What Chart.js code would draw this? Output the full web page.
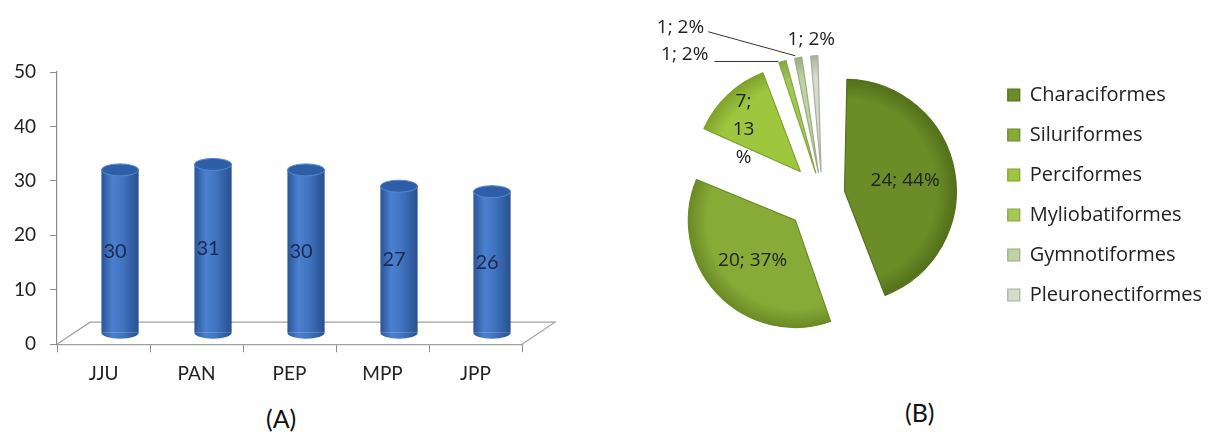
<!DOCTYPE html>
<html>
<head>
<meta charset="utf-8">
<script src="https://cdn.jsdelivr.net/npm/chart.js@4.4.1/dist/chart.umd.min.js"></script>
<style>
    body { margin: 0; background: #fff; width: 1212px; height: 439px; overflow: hidden; position: relative; font-family: Lato, sans-serif; }
    #caixa-a { position: absolute; left: 0; top: 0; width: 600px; height: 400px; }
    #caixa-b { position: absolute; left: 657px; top: 0; width: 555px; height: 390px; }
    .legenda { position: absolute; font-size: 25px; color: #111; }
</style>
</head>
<body>
<div id="caixa-a"><canvas id="grafico-locais"></canvas></div>
<div id="caixa-b"><canvas id="grafico-ordens"></canvas></div>
<div class="legenda" style="left:266px; top:403px;">(A)</div>
<div class="legenda" style="left:905px; top:397px;">(B)</div>

<script>
// Dados (A): riqueza por local
const locais = ['JJU', 'PAN', 'PEP', 'MPP', 'JPP'];
const riqueza = [30, 31, 30, 27, 26];
const ticksY = [0, 10, 20, 30, 40, 50];

// Dados (B): espécies por ordem
const ordens = ['Characiformes', 'Siluriformes', 'Perciformes', 'Myliobatiformes', 'Gymnotiformes', 'Pleuronectiformes'];
const especies = [24, 20, 7, 1, 1, 1];
const percentuais = [44, 37, 13, 2, 2, 2];

const coresOrdens = ['#6c8c27', '#88ab38', '#9ec63e', '#a5c855', '#bfd3a0', '#d5dccb'];
const bordasOrdens = ['#52701a', '#6b8a25', '#7fa22c', '#86a645', '#9cac84', '#a9b09e'];

const fonte = 'Lato, "Open Sans", sans-serif';
const fonteB = '"Open Sans", Lato, sans-serif';

// Gráfico (A): cilindros com piso em perspectiva
const profundidade = { dx: 33, dy: -22 };

const cilindros = {
    id: 'cilindros',
    beforeDatasetsDraw(chart) {
        const { ctx, scales: { x, y } } = chart;
        const base = y.getPixelForValue(0);
        ctx.save();
        ctx.strokeStyle = '#a0a0a0';
        ctx.lineWidth = 1.2;
        ctx.beginPath();
        ctx.moveTo(x.left, base);
        ctx.lineTo(x.left + profundidade.dx, base + profundidade.dy);
        ctx.lineTo(x.right + profundidade.dx, base + profundidade.dy);
        ctx.lineTo(x.right, base);
        ctx.stroke();
        ctx.restore();

        chart.getDatasetMeta(0).data.forEach(barra => {
            const g = ctx.createLinearGradient(barra.x - barra.width / 2, 0, barra.x + barra.width / 2, 0);
            g.addColorStop(0, '#2b5495');
            g.addColorStop(0.3, '#4b80cf');
            g.addColorStop(0.55, '#4175c3');
            g.addColorStop(1, '#28508f');
            barra.options.backgroundColor = g;
        });
        ctx.save();
        ctx.translate(profundidade.dx / 2, profundidade.dy / 2);
    },
    afterDatasetsDraw(chart) {
        const { ctx } = chart;
        chart.getDatasetMeta(0).data.forEach((barra, i) => {
            const rx = barra.width / 2, ry = 6;
            ctx.fillStyle = barra.options.backgroundColor;
            ctx.beginPath();
            ctx.ellipse(barra.x, barra.base, rx, ry, 0, 0, Math.PI);
            ctx.fill();

            ctx.beginPath();
            ctx.ellipse(barra.x, barra.y, rx, ry, 0, 0, Math.PI * 2);
            ctx.fillStyle = '#2f5ea8';
            ctx.fill();
            ctx.strokeStyle = '#5487d2';
            ctx.lineWidth = 1;
            ctx.stroke();

            ctx.fillStyle = '#1b2a4c';
            ctx.font = '20px ' + fonte;
            ctx.textAlign = 'center';
            ctx.textBaseline = 'middle';
            ctx.fillText(String(riqueza[i]), barra.x - 5, (barra.y + barra.base) / 2);
        });
        ctx.restore();
    }
};

new Chart(document.getElementById('grafico-locais'), {
    type: 'bar',
    data: {
        labels: locais,
        datasets: [{
            data: riqueza,
            // função => opções não compartilhadas entre barras
            backgroundColor: () => '#3d70bd',
            barPercentage: 0.4,
            categoryPercentage: 1
        }]
    },
    options: {
        responsive: true,
        maintainAspectRatio: false,
        animation: false,
        layout: { padding: { left: 0, right: 78, top: 72, bottom: 5 } },
        plugins: { legend: { display: false }, tooltip: { enabled: false } },
        scales: {
            x: {
                grid: { display: true, drawOnChartArea: false, tickLength: 8, color: '#8c8c8c' },
                border: { color: '#a0a0a0', width: 1.2 },
                ticks: { color: '#222', font: { family: fonte, size: 19 }, padding: 10 }
            },
            y: {
                min: 0,
                max: 50,
                afterBuildTicks: s => { s.ticks = ticksY.map(v => ({ value: v })); },
                grid: { display: true, drawOnChartArea: false, tickLength: 7, color: '#8c8c8c' },
                border: { color: '#8c8c8c', width: 1.2 },
                ticks: { color: '#222', font: { family: fonte, size: 19 }, padding: 14 }
            }
        }
    },
    plugins: [cilindros]
});

// Gráfico (B): pizza explodida
const rotulosPizza = {
    id: 'rotulosPizza',
    beforeDatasetsDraw(chart) {
        const { ctx } = chart;
        chart.getDatasetMeta(0).data.forEach((fatia, i) => {
            const desl = (fatia.options.offset || 0) / 4;
            const circ = fatia.endAngle - fatia.startAngle;
            const raio = fatia.outerRadius + desl * (1 - Math.sin(Math.min(Math.PI, circ)));
            const g = ctx.createRadialGradient(fatia.x, fatia.y, 0, fatia.x, fatia.y, raio);
            g.addColorStop(0, coresOrdens[i]);
            g.addColorStop(0.82, coresOrdens[i]);
            g.addColorStop(1, bordasOrdens[i]);
            fatia.options.backgroundColor = g;
        });
    },
    afterDatasetsDraw(chart) {
        const { ctx } = chart;
        ctx.save();
        ctx.font = '19px ' + fonteB;
        ctx.fillStyle = '#222';
        ctx.strokeStyle = '#333';
        ctx.lineWidth = 1;
        chart.getDatasetMeta(0).data.forEach((fatia, i) => {
            const meio = (fatia.startAngle + fatia.endAngle) / 2;
            const desl = (fatia.options.offset || 0) / 4;
            const circ = fatia.endAngle - fatia.startAngle;
            const raio = fatia.outerRadius + desl * (1 - Math.sin(Math.min(Math.PI, circ)));
            const dir = { x: Math.cos(meio), y: Math.sin(meio) };
            const texto = especies[i] + '; ' + percentuais[i] + '%';
            if (circ > 0.6) {
                const r = desl + raio * 0.55;
                const px = fatia.x + dir.x * r, py = fatia.y + dir.y * r;
                ctx.textAlign = 'center';
                ctx.textBaseline = 'middle';
                if (circ < 1.2) {
                    const linhas = [especies[i] + ';', String(percentuais[i]), '%'];
                    linhas.forEach((l, k) => ctx.fillText(l, px - 17, py + (k - 1) * 28));
                } else {
                    ctx.fillText(texto, px, py);
                }
            } else {
                const r = desl + raio;
                const px = fatia.x + dir.x * r, py = fatia.y + dir.y * r;
                ctx.textBaseline = 'middle';
                ctx.beginPath();
                if (i === 3) {
                    ctx.textAlign = 'right';
                    ctx.fillText(texto, px - 74, py - 7);
                    ctx.moveTo(px - 68, py);
                    ctx.lineTo(px - 4, py);
                    ctx.stroke();
                } else if (i === 4) {
                    ctx.textAlign = 'right';
                    ctx.fillText(texto, px - 94, py - 30);
                    ctx.moveTo(px - 90, py - 26);
                    ctx.lineTo(px - 3, py - 2);
                    ctx.stroke();
                } else {
                    ctx.textAlign = 'center';
                    ctx.fillText(texto, px - 3, py - 16);
                }
            }
        });
        ctx.restore();
    }
};

new Chart(document.getElementById('grafico-ordens'), {
    type: 'pie',
    data: {
        labels: ordens,
        datasets: [{
            data: especies,
            backgroundColor: c => coresOrdens[c.dataIndex],
            borderColor: bordasOrdens,
            borderWidth: 1.2,
            offset: [90, 148, 128, 90, 90, 90],
            radius: 97
        }]
    },
    options: {
        responsive: true,
        maintainAspectRatio: false,
        animation: false,
        plugins: {
            tooltip: { enabled: false },
            legend: {
                position: 'right',
                labels: {
                    color: '#222',
                    font: { family: fonteB, size: 20 },
                    boxWidth: 12,
                    boxHeight: 12,
                    padding: 20
                }
            }
        }
    },
    plugins: [rotulosPizza]
});
</script>
</body>
</html>
